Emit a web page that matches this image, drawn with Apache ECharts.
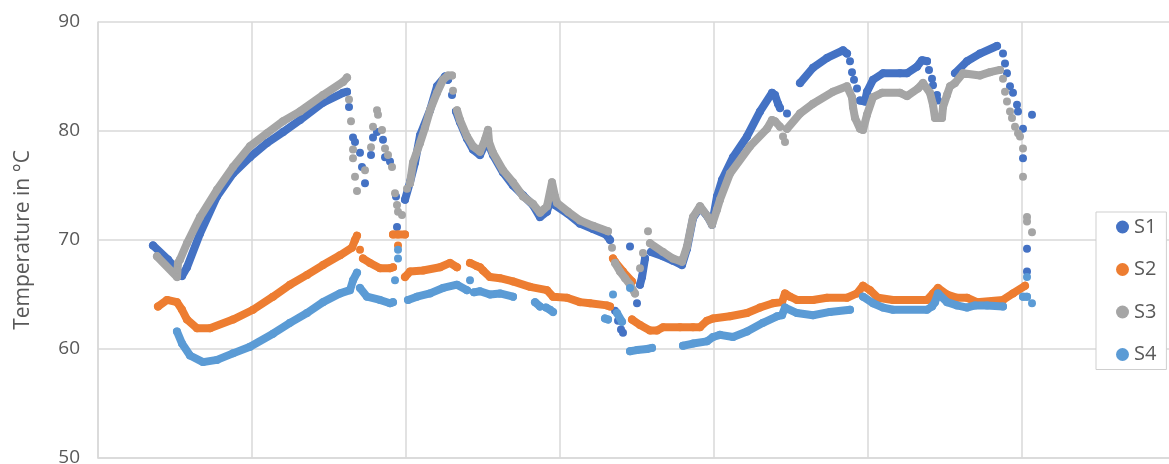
<!DOCTYPE html>
<html>
<head>
<meta charset="utf-8">
<script src="https://cdn.jsdelivr.net/npm/echarts@6/dist/echarts.min.js"></script>
<style>
  html, body { margin: 0; padding: 0; background: #fff; overflow: hidden; width: 100%; height: 100%; }
  #chart { width: 100vw; height: 100vh; }
</style>
</head>
<body>
<div id="chart"></div>
<script>
// Sensor readings: [t, °C]; null marks a gap in the record.
const seriesNames = ['S1', 'S2', 'S3', 'S4'];
const seriesColors = ['#4472C4', '#ED7D31', '#A5A5A5', '#5B9BD5'];
const yTicks = [50, 60, 70, 80, 90];

const s1Points = [
  [55,69.5],[70,68.2],[84,66.7],[89,67.5],[102,70.6],[119,74.0],[135,76.1],[152,77.6],[169,78.9],[185,79.9],[202,81.0],[225,82.6],[245,83.5],[249,83.6],
  null,[251,82.2],null,[255,79.4],null,[257,79.0],null,[262,78.0],null,[264,76.7],null,[267,75.2],null,[273,77.8],null,[275,79.4],null,[279,79.9],null,[285,79.2],null,[287,77.6],null,[292,77.2],null,[298,74.0],null,[299,71.2],
  null,[307,73.7],[312,75.3],[317,77.1],[322,79.6],[332,81.9],[339,84.1],[347,85.0],[350,84.7],
  null,[354,83.3],null,
  [358,81.8],[362,80.8],[369,79.3],[375,78.3],[382,77.8],[386,78.6],[390,78.9],[395,77.8],[405,76.2],[415,75.0],[425,74.1],[435,73.2],[442,72.1],[449,72.6],[453,73.9],[457,73.2],[470,72.4],[482,71.5],[495,71.0],[508,70.5],[512,70.0],
  null,[517,63.5],null,[520,62.6],null,[523,61.8],null,[525,61.5],null,[532,69.4],null,[539,64.2],null,
  [542,65.9],[544,66.6],[547,68.3],null,
  [553,68.9],[565,68.5],[575,68.1],[584,67.7],[589,69.2],[595,72.0],[602,73.0],[610,72.1],[614,71.4],[619,74.0],[624,75.5],[635,77.6],[649,79.5],[662,81.8],[674,83.5],[677,83.3],[680,82.5],[682,82.1],null,[689,81.6],null,
  [702,84.4],[715,85.8],[729,86.7],[745,87.4],[749,87.1],null,[752,86.4],null,[754,85.4],null,[756,84.7],null,[759,83.9],null,
  [762,82.8],[767,82.7],[769,83.6],[775,84.7],[785,85.3],[802,85.3],[809,85.3],[819,85.9],[824,86.5],[829,86.4],null,[831,85.6],null,[834,84.8],null,[835,84.2],null,[839,83.3],null,[840,82.8],null,
  [857,85.3],[869,86.4],[882,87.1],[899,87.8],null,[905,87.1],null,[907,86.2],null,[909,85.3],null,[912,84.1],null,[915,83.5],null,[919,82.4],null,[920,81.8],null,[925,80.2],null,[925,77.5],null,[929,69.2],null,[929,67.1],null,[934,81.5]
];

const s2Points = [
  [60,63.9],[69,64.5],[79,64.3],[84,63.6],[89,62.7],[99,61.9],[112,61.9],[135,62.7],[155,63.6],[175,64.8],[192,65.9],[209,66.8],[225,67.7],[242,68.6],[254,69.3],[257,70.0],[259,70.4],
  null,[262,69.1],null,
  [265,68.3],[272,67.9],[282,67.4],[292,67.4],[295,67.5],null,
  [295,70.5],[300,70.5],[307,70.5],null,[300,69.5],null,
  [307,66.6],[312,67.1],[325,67.2],[342,67.5],[352,67.9],[359,67.5],null,
  [372,67.9],[379,67.6],[382,67.5],[385,67.2],[392,66.6],[402,66.5],[415,66.2],[432,65.7],[449,65.4],[455,64.8],[469,64.7],[482,64.3],[492,64.2],[509,64.0],[512,63.9],null,
  [515,68.3],[517,68.0],[525,67.1],[534,66.2],null,
  [534,62.7],[542,62.2],[552,61.7],[559,61.7],[565,62.0],[582,62.0],[595,62.0],[602,62.0],[609,62.6],[615,62.8],[632,63.0],[649,63.3],[662,63.8],[675,64.2],[684,64.3],[687,65.1],[692,64.8],[699,64.5],[715,64.5],[729,64.7],[749,64.7],[759,65.1],[765,65.8],[772,65.4],[780,64.7],[795,64.5],[829,64.5],[835,65.1],[840,65.6],[849,65.0],[859,64.7],[869,64.7],[879,64.3],[905,64.5],[915,65.1],[927,65.8]
];

const s3Points = [
  [59,68.5],[79,66.6],[80,67.9],[82,68.2],[89,69.7],[102,72.1],[119,74.6],[135,76.7],[152,78.6],[169,79.8],[185,80.9],[202,81.8],[225,83.3],[245,84.5],[249,84.9],
  null,[251,82.9],null,[253,80.9],null,[255,78.3],null,[255,77.5],null,[257,75.8],null,[259,74.5],null,[267,76.4],null,[273,78.5],null,[275,80.4],null,[279,81.9],null,[280,81.5],null,[284,80.1],null,[287,78.4],null,[290,77.8],null,[294,76.7],null,[297,74.3],null,[299,73.2],null,[300,72.6],null,[304,72.3],null,[309,74.7],null,
  [312,75.2],[315,77.1],[322,78.9],[327,80.3],[332,81.9],[339,83.5],[345,84.7],[350,85.1],[354,85.1],null,[355,83.7],null,
  [359,81.9],[362,81.0],[369,79.5],[375,78.6],[382,78.1],[387,79.2],[390,80.1],[391,79.0],[395,78.0],[405,76.4],[415,75.3],[425,74.0],[435,73.3],[442,72.5],[449,73.1],[454,75.3],[457,74.0],[459,73.4],[470,72.6],[482,71.8],[495,71.3],[510,70.8],
  null,[514,69.3],null,
  [517,67.9],[522,67.1],[527,66.5],[532,65.9],[537,65.1],null,
  [542,67.4],null,[545,68.8],null,[550,70.8],null,
  [552,69.7],[565,68.9],[575,68.3],[584,68.0],[589,69.4],[595,72.1],[602,73.1],[610,72.1],[614,71.4],[619,72.8],[622,73.7],[632,76.1],[652,78.6],[669,80.2],[674,81.0],[677,80.9],[682,80.4],null,[685,79.5],null,[687,79.0],null,
  [689,80.2],[702,81.6],[715,82.5],[735,83.6],[749,84.1],[754,83.1],[755,82.2],[757,81.2],[762,80.2],[765,80.1],[769,81.5],[775,83.1],[784,83.5],[802,83.5],[809,83.2],[820,83.9],[825,84.4],[832,83.5],[835,82.4],[837,81.2],[844,81.2],[845,82.2],[849,83.3],[852,84.1],[857,84.4],[865,85.3],[882,85.1],[892,85.4],[902,85.6],
  null,[905,84.8],null,[907,83.6],null,[909,82.7],null,[912,81.8],null,[914,81.2],null,[917,80.4],null,[920,79.8],null,[922,79.5],null,[925,78.4],null,[925,75.8],null,[929,72.1],null,[929,71.7],null,[934,70.7]
];

const s4Points = [
  [79,61.6],[84,60.5],[92,59.4],[105,58.8],[119,59.0],[135,59.6],[152,60.2],[175,61.4],[192,62.4],[209,63.3],[225,64.3],[242,65.1],[252,65.4],[255,66.3],[259,67.0],null,
  [262,65.6],[269,64.8],[282,64.5],[292,64.2],[295,64.3],null,
  [297,66.3],null,[300,69.1],null,[300,68.3],null,
  [310,64.5],[319,64.8],[332,65.1],[345,65.6],[359,65.9],[369,65.4],null,[372,66.3],null,
  [376,65.2],[382,65.3],[392,65.0],[402,65.1],[415,64.8],null,
  [437,64.3],[442,63.9],null,[448,63.8],[452,63.6],[455,63.4],null,
  [507,62.8],[510,62.7],null,[515,65.0],null,[519,63.3],[524,62.5],null,[532,65.6],null,
  [532,59.8],[539,59.9],[549,60.0],[554,60.1],null,
  [585,60.3],[595,60.5],[609,60.7],[615,61.1],[622,61.3],[635,61.1],[649,61.6],[665,62.4],[679,63.0],[684,63.1],[687,63.8],[699,63.3],[715,63.1],[732,63.4],[752,63.6],null,
  [765,64.8],[775,64.2],[785,63.8],[795,63.6],[829,63.6],[834,63.9],[837,64.3],[840,65.1],[849,64.3],[859,64.0],[869,63.8],[877,64.0],[889,64.0],[905,63.9],null,
  [925,64.8],[929,64.8],null,[929,66.6],null,[934,64.2]
];

const allPoints = [s1Points, s2Points, s3Points, s4Points];

// null entries become empty points so the trace breaks there
function toData(points) {
  return points.map(p => p === null ? ['-', '-'] : p);
}

const textColor = '#595959';
const gridColor = '#d9d9d9';
const font = '"Open Sans", "Noto Sans", sans-serif';

const chart = echarts.init(document.getElementById('chart'), null, { renderer: 'canvas' });

chart.setOption({
  animation: false,
  backgroundColor: '#fff',
  grid: { left: 98, right: -8, top: 22, bottom: 6, containLabel: false, outerBoundsMode: 'none' },
  xAxis: {
    type: 'value',
    min: 0,
    max: 1079,
    interval: 154,
    axisLine: { show: true, lineStyle: { color: gridColor, width: 1.5 } },
    axisTick: { show: false },
    axisLabel: { show: false },
    splitLine: { show: true, lineStyle: { color: gridColor, width: 1.5 } }
  },
  yAxis: {
    type: 'value',
    min: yTicks[0],
    max: yTicks[yTicks.length - 1],
    interval: yTicks[1] - yTicks[0],
    name: 'Temperature in °C',
    nameLocation: 'middle',
    nameGap: 64,
    nameTextStyle: { color: textColor, fontSize: 21, fontFamily: font },
    axisLine: { show: true, lineStyle: { color: gridColor, width: 1.5 } },
    axisTick: { show: false },
    axisLabel: { color: textColor, fontSize: 19, fontFamily: font, margin: 18 },
    splitLine: { show: true, lineStyle: { color: gridColor, width: 1.5 } }
  },
  legend: {
    data: seriesNames,
    orient: 'vertical',
    left: 1096,
    top: 212,
    icon: 'circle',
    itemWidth: 13,
    itemHeight: 13,
    itemGap: 22.5,
    padding: [5, 10, 5, 20],
    borderColor: '#cfcfcf',
    borderWidth: 1,
    backgroundColor: '#fff',
    textStyle: { color: textColor, fontSize: 20, lineHeight: 20, fontFamily: font }
  },
  series: seriesNames.map((name, i) => ({
    name,
    type: 'line',
    data: toData(allPoints[i]),
    connectNulls: false,
    showSymbol: true,
    showAllSymbol: true,
    symbol: 'circle',
    symbolSize: 8,
    color: seriesColors[i],
    itemStyle: { color: seriesColors[i], borderWidth: 0 },
    lineStyle: { color: seriesColors[i], width: 8, cap: 'round', join: 'round' },
    emphasis: { disabled: true },
    z: 2 + i
  }))
});
</script>
</body>
</html>
